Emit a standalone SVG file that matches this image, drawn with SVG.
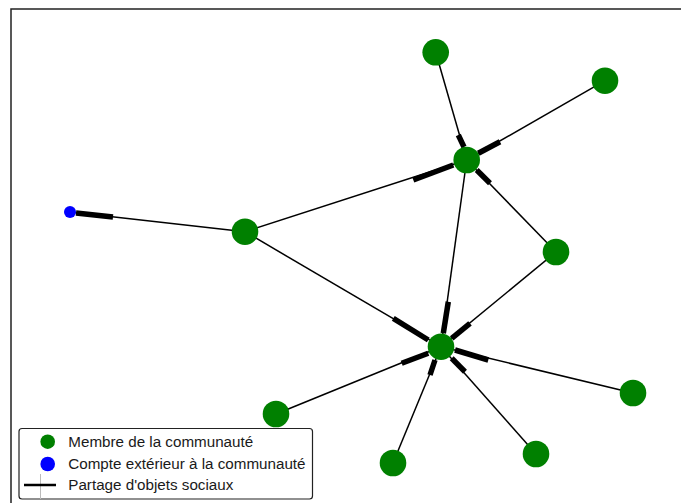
<svg xmlns="http://www.w3.org/2000/svg" width="681" height="503" viewBox="0 0 681 503">
<style>
.edge{stroke:#000;stroke-width:1.5;fill:none}
.head{stroke:#000;stroke-width:5.5;stroke-linecap:butt;fill:none}
.member{fill:#008000}
.ext{fill:#0000ff}
.lbl{font-family:"Liberation Sans",Arial,sans-serif;font-size:15.2px;fill:#1a1a1a}
</style>
<rect width="681" height="503" fill="#fff"/>
<rect x="11" y="9" width="720" height="560" fill="none" stroke="#222" stroke-width="1.5"/>
<g id="connectors">
  <line class="edge" x1="435.7" y1="52.3" x2="466.7" y2="160"/>
  <line class="edge" x1="605" y1="80.7" x2="466.7" y2="160"/>
  <line class="edge" x1="245" y1="231.7" x2="466.7" y2="160"/>
  <line class="edge" x1="556" y1="252" x2="466.7" y2="160"/>
  <line class="edge" x1="466.7" y1="160" x2="441" y2="346.7"/>
  <line class="edge" x1="245" y1="231.7" x2="441" y2="346.7"/>
  <line class="edge" x1="556" y1="252" x2="441" y2="346.7"/>
  <line class="edge" x1="276" y1="414" x2="441" y2="346.7"/>
  <line class="edge" x1="393" y1="463" x2="441" y2="346.7"/>
  <line class="edge" x1="536" y1="454" x2="441" y2="346.7"/>
  <line class="edge" x1="633" y1="393" x2="441" y2="346.7"/>
  <line class="edge" x1="245" y1="231.7" x2="70" y2="212"/>
  <line class="head" x1="458.3" y1="135" x2="464" y2="147"/>
  <line class="head" x1="500" y1="141.7" x2="478.3" y2="153.3"/>
  <line class="head" x1="413.3" y1="180" x2="453.3" y2="165"/>
  <line class="head" x1="490" y1="183.3" x2="476.7" y2="170"/>
  <line class="head" x1="448.3" y1="301.7" x2="443.3" y2="333.3"/>
  <line class="head" x1="393.3" y1="318.3" x2="428.3" y2="340"/>
  <line class="head" x1="470" y1="323.3" x2="451.7" y2="338.3"/>
  <line class="head" x1="488.3" y1="360" x2="455" y2="350"/>
  <line class="head" x1="465" y1="371.7" x2="451.7" y2="358.3"/>
  <line class="head" x1="430" y1="375" x2="435" y2="360"/>
  <line class="head" x1="401.7" y1="363.3" x2="428.3" y2="353.3"/>
  <line class="head" x1="113" y1="217" x2="76" y2="213"/>
</g>
<g id="n-A"><circle class="member" cx="435.7" cy="52.3" r="13.3"/></g>
<g id="n-B"><circle class="member" cx="605" cy="80.7" r="13.3"/></g>
<g id="n-C"><circle class="member" cx="466.7" cy="160" r="13.3"/></g>
<g id="n-D"><circle class="member" cx="245" cy="231.7" r="13.3"/></g>
<g id="n-E"><circle class="ext" cx="70" cy="212" r="6"/></g>
<g id="n-F"><circle class="member" cx="556" cy="252" r="13.3"/></g>
<g id="n-G"><circle class="member" cx="441" cy="346.7" r="13.3"/></g>
<g id="n-H"><circle class="member" cx="276" cy="414" r="13.3"/></g>
<g id="n-I"><circle class="member" cx="393" cy="463" r="13.3"/></g>
<g id="n-J"><circle class="member" cx="536" cy="454" r="13.3"/></g>
<g id="n-K"><circle class="member" cx="633" cy="393" r="13.3"/></g>
<g id="legend">
  <rect x="19" y="428.5" width="293.5" height="70.5" rx="3" ry="3" fill="#fff" fill-opacity="0.9" stroke="#222" stroke-width="1.2"/>
  <circle class="member" cx="47.7" cy="441.7" r="7.3"/>
  <circle class="ext" cx="47.7" cy="464" r="7.3"/>
  <line x1="40.5" y1="474" x2="40.5" y2="499" stroke="#bbb" stroke-width="1"/>
  <line x1="24" y1="485" x2="56" y2="485" stroke="#000" stroke-width="2.5"/>
  <text class="lbl" x="68.3" y="446.7">Membre de la communauté</text>
  <text class="lbl" x="68.3" y="468.6">Compte extérieur à la communauté</text>
  <text class="lbl" x="68.3" y="490.4">Partage d'objets sociaux</text>
</g>
</svg>
